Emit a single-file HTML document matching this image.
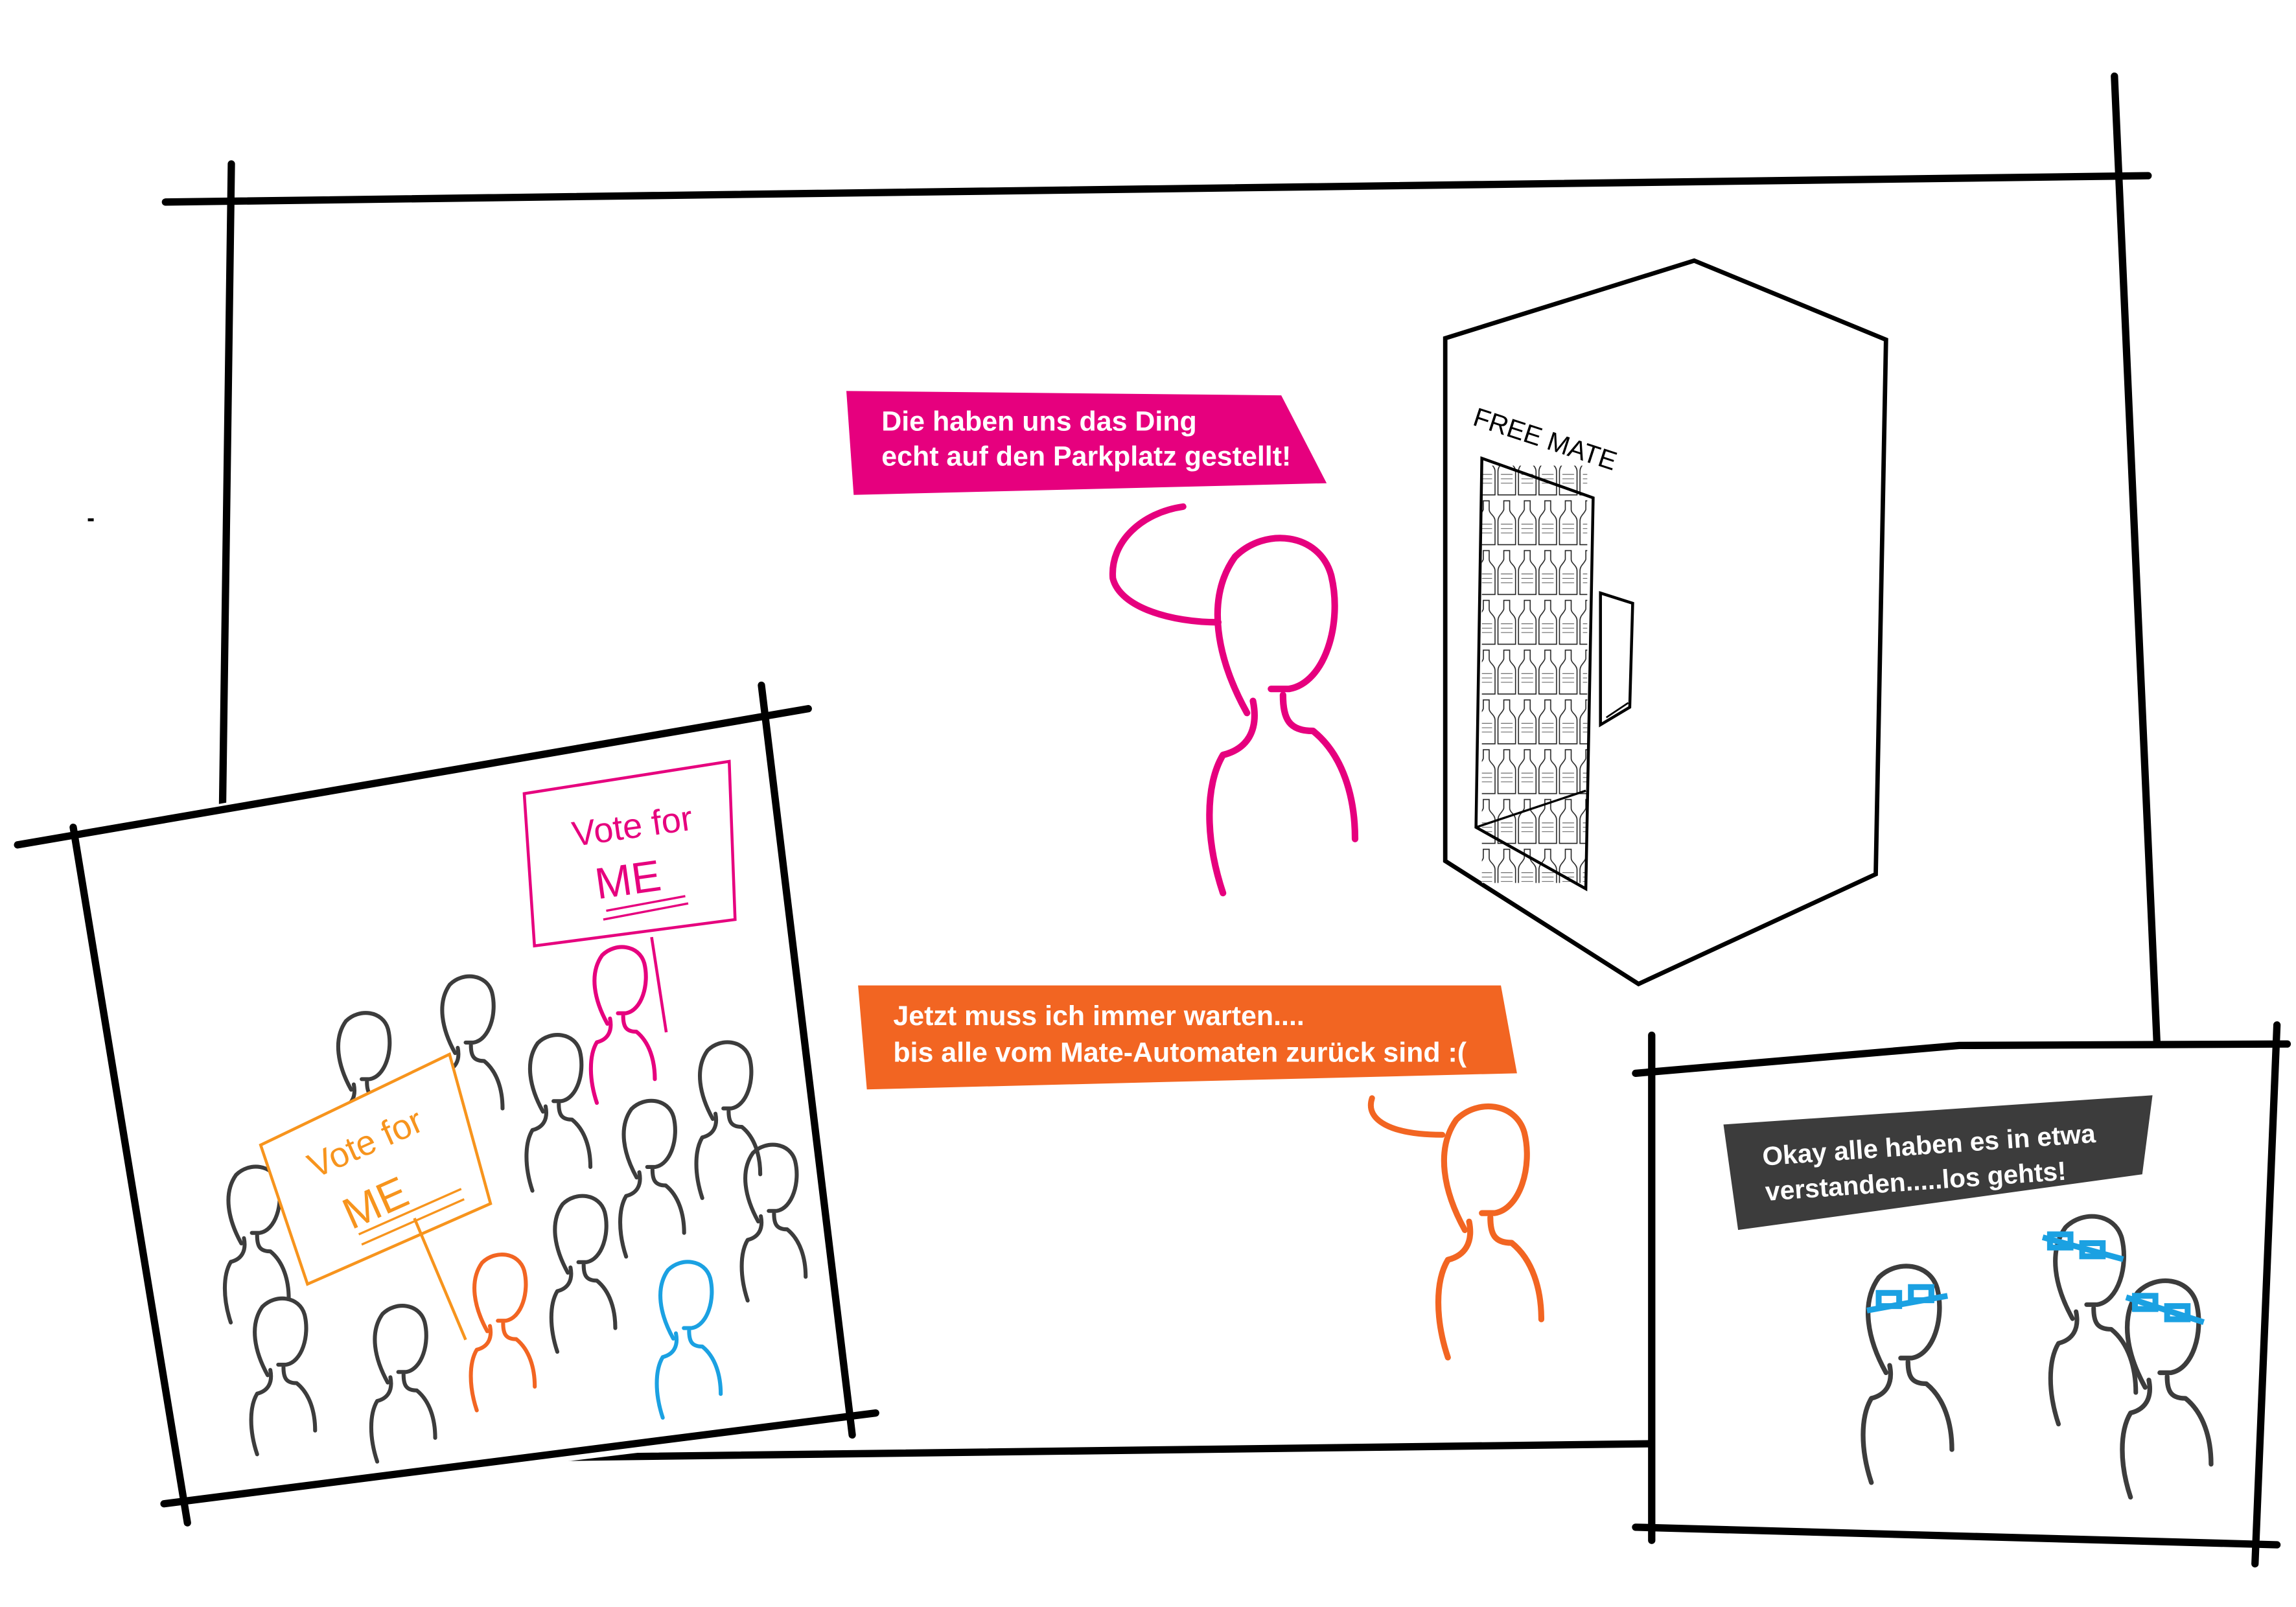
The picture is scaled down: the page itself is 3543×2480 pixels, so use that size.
<!DOCTYPE html>
<html><head><meta charset="utf-8"><style>
html,body{margin:0;padding:0;background:#fff}
svg{display:block}
text{font-family:"Liberation Sans",sans-serif;font-weight:bold}
</style></head><body>
<svg width="3543" height="2480" viewBox="0 0 1568 1097.5" preserveAspectRatio="none" xmlns="http://www.w3.org/2000/svg">
<defs>
<g id="p" fill="none" stroke-linecap="round" stroke-linejoin="round">
<path d="M-8,38 C-18,20 -22,0 -12,-14 C-2,-24 16,-22 20,-8 C24,8 18,28 6,30 L0,30"/>
<path d="M-6,34 C-4,44 -8,50 -16,52 C-22,62 -22,80 -16,98"/>
<path d="M4,32 C4,40 6,44 14,44 C24,52 28,66 28,80"/>
</g>
<pattern id="bt" width="14" height="34" patternUnits="userSpaceOnUse">
<path d="M5,2 h4 v6 c0,3 4,4 4,8 v16 h-12 v-16 c0,-4 3,-5 4,-8z" fill="#fff" stroke="#222" stroke-width="0.7"/>
<path d="M3,18 h8 M3,21 h8 M3,24 h8" stroke="#444" stroke-width="0.4"/>
</pattern>
</defs>

<g stroke="#000" stroke-width="5" stroke-linecap="round" fill="none">
<path d="M113,138 L1467,120"/>
<path d="M158,112 L152,550"/>
<path d="M1444,52 L1473,712"/>
<path d="M330,996 L1128,986"/>
</g>

<polygon points="578,267 875,270 906,330 583,338" fill="#e6007e"/>
<text x="602" y="294" font-size="19" fill="#fff">Die haben uns das Ding</text>
<text x="602" y="318" font-size="19" fill="#fff">echt auf den Parkplatz gestellt!</text>

<g stroke="#e6007e" stroke-width="4.5">
<path d="M808,346 C780,350 758,370 760,395 C765,415 800,425 832,425" fill="none" stroke-linecap="round"/>
<use href="#p" transform="translate(868,409) scale(2.05)" stroke-width="2.2"/>
</g>

<g fill="none" stroke="#000">
<polygon points="987,231 1157,178 1288,232 1281,597 1119,672 987,588" stroke-width="3" fill="#fff"/>
<rect x="1012" y="318" width="72" height="285" fill="url(#bt)" stroke="none"/>
<polygon points="1012,313 1088,340 1083,607 1008,565" stroke-width="2"/>
<path d="M1008,565 L1083,540" stroke-width="1.5"/>
<polygon points="1093,405 1115,412 1113,483 1093,495" stroke-width="2"/>
<path d="M1097,490 L1112,480" stroke-width="1.2"/>
</g>
<text x="1005" y="290" font-size="18" style="font-weight:normal" fill="#000" transform="rotate(18 1005 290)">FREE MATE</text>

<polygon points="586,673 1025,673 1036,733 592,744" fill="#f26522"/>
<text x="610" y="700" font-size="19" fill="#fff">Jetzt muss ich immer warten....</text>
<text x="610" y="725" font-size="19" fill="#fff">bis alle vom Mate-Automaten zurück sind :(</text>

<g stroke="#f26522">
<path d="M937,750 C932,765 950,775 985,775" fill="none" stroke-width="4" stroke-linecap="round"/>
<use href="#p" transform="translate(1012,785) scale(1.45)" stroke-width="2.8"/>
</g>

<polygon points="50,567 522,482 578,975 122,1030" fill="#fff"/>
<g stroke="#000" stroke-width="5" stroke-linecap="round" fill="none">
<path d="M12,577 L552,484"/>
<path d="M50,565 L128,1040"/>
<path d="M520,468 L582,980"/>
<path d="M112,1027 L598,965"/>
</g>
<g stroke="#3c3c3c">
<use href="#p" transform="translate(247,710) scale(0.9)" stroke-width="3"/>
<use href="#p" transform="translate(318,685) scale(0.9)" stroke-width="3"/>
<use href="#p" transform="translate(378,725) scale(0.9)" stroke-width="3"/>
<use href="#p" transform="translate(442,770) scale(0.9)" stroke-width="3"/>
<use href="#p" transform="translate(494,730) scale(0.9)" stroke-width="3"/>
<use href="#p" transform="translate(172,815) scale(0.9)" stroke-width="3"/>
<use href="#p" transform="translate(190,905) scale(0.9)" stroke-width="3"/>
<use href="#p" transform="translate(272,910) scale(0.9)" stroke-width="3"/>
<use href="#p" transform="translate(395,835) scale(0.9)" stroke-width="3"/>
<use href="#p" transform="translate(525,800) scale(0.9)" stroke-width="3"/>
</g>
<use href="#p" transform="translate(340,875) scale(0.9)" stroke="#f26522" stroke-width="3"/>
<use href="#p" transform="translate(467,880) scale(0.9)" stroke="#1ba1e2" stroke-width="3"/>
<use href="#p" transform="translate(422,665) scale(0.9)" stroke="#e6007e" stroke-width="3"/>
<g stroke="#e6007e" fill="none" stroke-width="2">
<polygon points="358,542 498,520 502,628 365,646" fill="#fff"/>
<path d="M445,640 L455,705"/>
<path d="M412,628 L470,617 M414,622 L468,612" stroke-width="1.5"/>
</g>
<text x="392" y="578" font-size="24" fill="#e6007e" style="font-weight:normal" transform="rotate(-8 392 578)">Vote for</text>
<text x="408" y="614" font-size="30" fill="#e6007e" style="font-weight:normal" transform="rotate(-8 408 614)">ME</text>
<g stroke="#f7941d" fill="none" stroke-width="2">
<polygon points="178,782 307,720 335,822 210,877" fill="#fff"/>
<path d="M283,832 L318,915"/>
<path d="M245,843 L315,812 M247,850 L317,819" stroke-width="1.5"/>
</g>
<text x="215" y="805" font-size="24" fill="#f7941d" style="font-weight:normal" transform="rotate(-24 215 805)">Vote for</text>
<text x="240" y="840" font-size="30" fill="#f7941d" style="font-weight:normal" transform="rotate(-24 240 840)">ME</text>

<polygon points="1128,730 1557,712 1542,1055 1128,1045" fill="#fff"/>
<g stroke="#000" stroke-width="5" stroke-linecap="round" fill="none">
<path d="M1117,733 L1338,714 L1562,713"/>
<path d="M1128,707 L1128,1052"/>
<path d="M1555,700 L1540,1068"/>
<path d="M1117,1043 L1555,1055"/>
</g>
<polygon points="1177,768 1470,748 1463,802 1187,840" fill="#3c3c3c"/>
<text x="1204" y="796" font-size="18" fill="#fff" transform="rotate(-4 1204 796)">Okay alle haben es in etwa</text>
<text x="1206" y="820" font-size="18" fill="#fff" transform="rotate(-4 1206 820)">verstanden.....los gehts!</text>
<g stroke="#3c3c3c">
<use href="#p" transform="translate(1298,890) scale(1.25)" stroke-width="2.6"/>
<use href="#p" transform="translate(1425,855) scale(1.2)" stroke-width="2.6"/>
<use href="#p" transform="translate(1475,900) scale(1.25)" stroke-width="2.6"/>
</g>
<g fill="none" stroke="#1ba1e2" stroke-width="4">
<path d="M1275,895 L1330,885"/>
<rect x="1283" y="883" width="14" height="9"/><rect x="1305" y="879" width="14" height="9"/>
<path d="M1395,845 L1450,860"/>
<rect x="1400" y="843" width="14" height="9"/><rect x="1422" y="849" width="14" height="9"/>
<path d="M1452,886 L1505,903"/>
<rect x="1458" y="885" width="14" height="9"/><rect x="1480" y="892" width="14" height="9"/>
</g>
<rect x="60" y="354" width="4" height="2" fill="#000"/>
</svg>
</body></html>
